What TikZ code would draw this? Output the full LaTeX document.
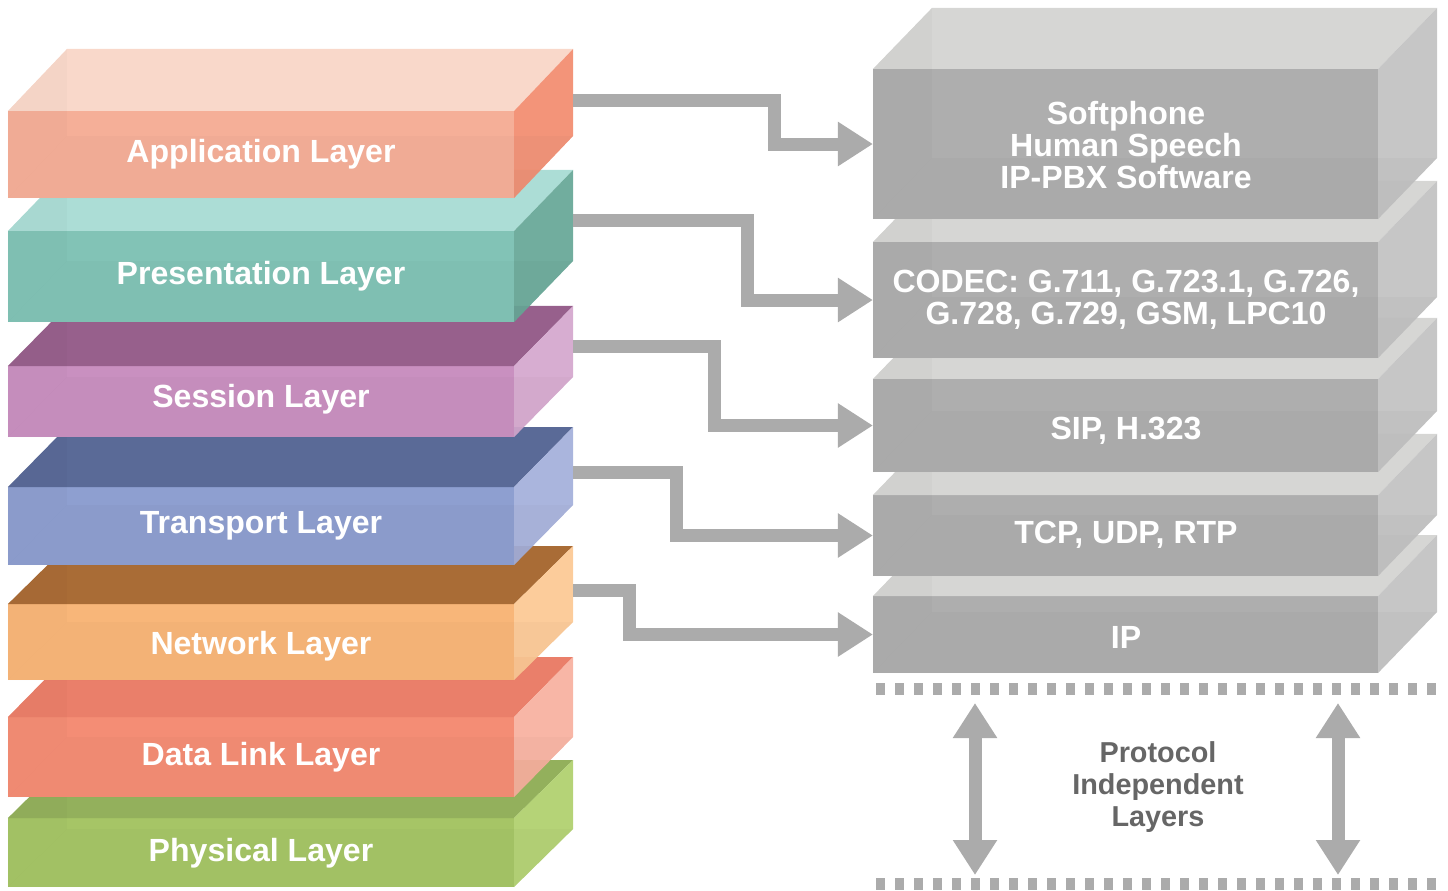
\documentclass[tikz,border=0pt]{standalone}
\usepackage{fontspec}
\setmainfont{Liberation Sans}
\usetikzlibrary{arrows.meta,calc}

\definecolor{apptop}{HTML}{F9D6C7}
\definecolor{appfront}{HTML}{F5AF98}
\definecolor{appside}{HTML}{F28D71}
\definecolor{prestop}{HTML}{A7DBD3}
\definecolor{presfront}{HTML}{82C3B6}
\definecolor{presside}{HTML}{68A898}
\definecolor{sesstop}{HTML}{915685}
\definecolor{sessfront}{HTML}{C990C0}
\definecolor{sessside}{HTML}{D5A8CE}
\definecolor{transtop}{HTML}{506191}
\definecolor{transfront}{HTML}{8E9FD0}
\definecolor{transside}{HTML}{A5B0DB}
\definecolor{nettop}{HTML}{A46329}
\definecolor{netfront}{HTML}{F8B679}
\definecolor{netside}{HTML}{FCC995}
\definecolor{linktop}{HTML}{E97761}
\definecolor{linkfront}{HTML}{F48D75}
\definecolor{linkside}{HTML}{F8B1A0}
\definecolor{phystop}{HTML}{8CAB52}
\definecolor{physfront}{HTML}{A6C566}
\definecolor{physside}{HTML}{B0D06E}
\definecolor{greytop}{HTML}{D3D3D1}
\definecolor{greyfront}{HTML}{AEAEAE}
\definecolor{greyside}{HTML}{C2C2C2}
\definecolor{pipegrey}{HTML}{ABABAB}
\definecolor{notegrey}{HTML}{666666}

% top face, right face and the faint hidden faces of a box
\newcommand{\boxsides}[4]{%
  \fill[#3, fill opacity=0.94] (#1.north west) -- ++(59,-#2) -- ($(#1.north east)+(59,-#2)$) -- (#1.north east) -- cycle;
  \fill[#4, fill opacity=0.94] (#1.north east) -- ++(59,-#2) -- ($(#1.south east)+(59,-#2)$) -- (#1.south east) -- cycle;
  \fill[black, opacity=0.02] (#1.north west) -- ++(59,-#2) -- ($(#1.south west)+(59,-#2)$) -- (#1.south west) -- cycle;
  \fill[black, opacity=0.02] (#1.south west) -- ++(59,-#2) -- ($(#1.south east)+(59,-#2)$) -- (#1.south east) -- cycle;
}

\tikzset{
  layer/.style={minimum width=12.65cm, inner sep=0pt, outer sep=0pt},
  proto/.style={minimum width=12.625cm, inner sep=0pt, outer sep=0pt, fill=greyfront},
  title/.style={text=white, align=center, inner sep=0pt, font=\fontsize{22.8}{22.8}\selectfont\bfseries},
  pipe/.style={draw=pipegrey, line width=0.325cm, -{Triangle[length=0.875cm,width=1.05cm]}},
  bothway/.style={draw=pipegrey, line width=0.325cm, {Triangle[length=0.875cm,width=1.05cm]}-{Triangle[length=0.875cm,width=1.05cm]}},
  guide/.style={draw=pipegrey, line width=0.29cm, dash pattern=on 0.225cm off 0.25cm},
}

\begin{document}
\begin{tikzpicture}[x=0.025cm,y=-0.025cm]
\useasboundingbox (0,0) rectangle (1448,890);

% OSI stack, drawn from the bottom up
\node[layer, fill=physfront, minimum height=1.725cm] (phys) at (261,852.5) {};
\boxsides{phys}{58}{phystop}{physside}

\node[layer, fill=linkfront, minimum height=2.0cm] (link) at (261,757) {};
\boxsides{link}{60}{linktop}{linkside}

\node[layer, fill=netfront, minimum height=1.9cm] (net) at (261,642) {};
\boxsides{net}{58}{nettop}{netside}

\node[layer, fill=transfront, minimum height=1.95cm] (trans) at (261,526) {};
\boxsides{trans}{60}{transtop}{transside}

\node[layer, fill=sessfront, minimum height=1.775cm] (sess) at (261,401.5) {};
\boxsides{sess}{60}{sesstop}{sessside}

\node[layer, fill=presfront, minimum height=2.275cm] (pres) at (261,276.5) {};
\boxsides{pres}{61}{prestop}{presside}

\node[layer, fill=appfront, minimum height=2.175cm] (app) at (261,154.5) {};
\boxsides{app}{62}{apptop}{appside}

\node[title] (apptitle) at (261,154) {Application Layer};
\node[title] (prestitle) at (261,276) {Presentation Layer};
\node[title] (sesstitle) at (261,399) {Session Layer};
\node[title] (transtitle) at (261,526) {Transport Layer};
\node[title] (nettitle) at (261,646) {Network Layer};
\node[title] (linktitle) at (261,757) {Data Link Layer};
\node[title] (phystitle) at (261,853) {Physical Layer};

% VoIP stack
\node[proto, minimum height=1.925cm] (ip) at (1125.5,634.5) {};
\boxsides{ip}{61}{greytop}{greyside}

\node[proto, minimum height=2.025cm] (tcp) at (1125.5,535.5) {};
\boxsides{tcp}{61}{greytop}{greyside}

\node[proto, minimum height=2.325cm] (sip) at (1125.5,425.5) {};
\boxsides{sip}{61}{greytop}{greyside}

\node[proto, minimum height=2.9cm] (codec) at (1125.5,300) {};
\boxsides{codec}{61}{greytop}{greyside}

\node[proto, minimum height=3.75cm] (soft) at (1125.5,144) {};
\boxsides{soft}{61}{greytop}{greyside}

\node[title] (softtitle) at (1126,145) {Softphone\\Human Speech\\IP-PBX Software};
\node[title] (codectitle) at (1126,300) {CODEC: G.711, G.723.1, G.726,\\G.728, G.729, GSM, LPC10};
\node[title] (siptitle) at (1126,431) {SIP, H.323};
\node[title] (tcptitle) at (1126,535) {TCP, UDP, RTP};
\node[title] (iptitle) at (1126,637) {IP};

% mapping arrows
\coordinate (appout) at (573,100);
\coordinate (presout) at (573,220);
\coordinate (sessout) at (573,346);
\coordinate (transout) at (573,472);
\coordinate (netout) at (573,590);

\draw[pipe] (appout) -- ++(201,0) |- (soft.west);
\draw[pipe] (presout) -- ++(174,0) |- (codec.west);
\draw[pipe] (sessout) -- ++(141,0) |- (sip.west);
\draw[pipe] (transout) -- ++(103,0) |- (tcp.west);
\draw[pipe] (netout) -- ++(56,0) |- (ip.west);

% protocol independent part
\coordinate (guideAw) at (876,689);
\coordinate (guideAe) at (1437,689);
\coordinate (guideBw) at (876,884);
\coordinate (guideBe) at (1437,884);
\draw[guide] (guideAw) -- (guideAe);
\draw[guide] (guideBw) -- (guideBe);

\coordinate (leftup) at (975,703);
\coordinate (leftdown) at (975,875);
\coordinate (rightup) at (1338,703);
\coordinate (rightdown) at (1338,875);
\draw[bothway] (leftup) -- (leftdown);
\draw[bothway] (rightup) -- (rightdown);

\node[align=center, text=notegrey, font=\fontsize{20.5}{22.8}\selectfont\bfseries] (indep) at (1158,787)
{Protocol\\Independent\\Layers};
\end{tikzpicture}
\end{document}
